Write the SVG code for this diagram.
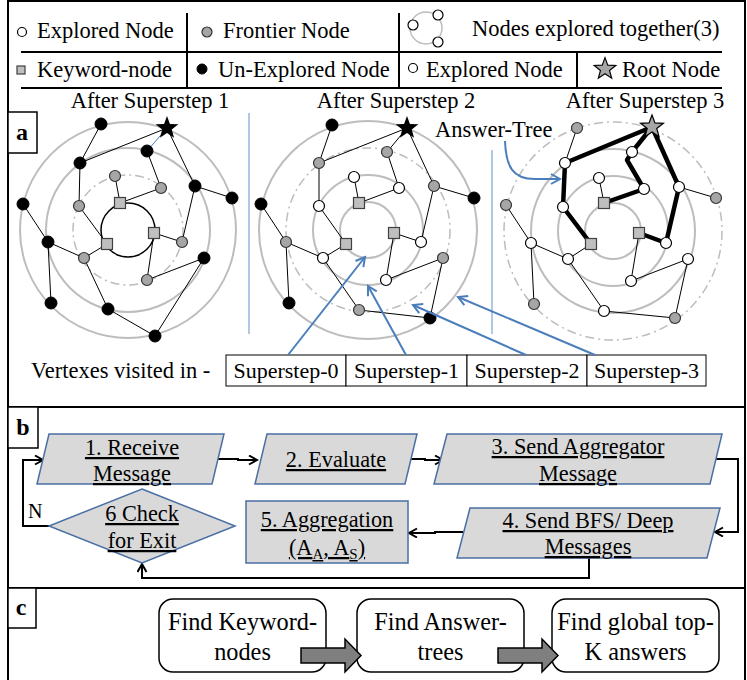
<svg xmlns="http://www.w3.org/2000/svg" xmlns:xlink="http://www.w3.org/1999/xlink" width="747" height="680" viewBox="0 0 747 680">
<defs>
<style>
text{font-family:"Liberation Serif","Times New Roman",serif;fill:#000}
.lg{font-size:22.5px}
.t{font-size:22.5px}
.fc{font-size:22.3px;text-anchor:middle;text-decoration:underline}
.pc{font-size:24.3px;text-anchor:middle}
.lbl{font-size:24px;font-weight:bold;text-anchor:middle}
.ex{fill:#fff;stroke:#000;stroke-width:1.2}
.fr{fill:#a6a6a6;stroke:#333;stroke-width:1.2}
.un{fill:#000;stroke:#000;stroke-width:1}
.kw{fill:#bfbfbf;stroke:#404040;stroke-width:1.2}
.ring{fill:none;stroke:#bdbdbd;stroke-width:2}
.dd{fill:none;stroke:#bdbdbd;stroke-width:1.5;stroke-dasharray:9 4 2 4}
.e{stroke:#000;stroke-width:1;fill:none}
.th{stroke:#000;stroke-width:4.5;fill:none;stroke-linejoin:round}
.bl{stroke:#4a7ebb;stroke-width:2;fill:none}
.sep{stroke:#7ea3d4;stroke-width:1.2}
.ln{stroke:#000;stroke-width:2;fill:none}
.fbox{fill:#d9d9d9;stroke:#4a6fa5;stroke-width:1.5}
.cbox{fill:#fff;stroke:#000;stroke-width:1.5}
.conn{stroke:#000;stroke-width:2;fill:none}
</style>
<polygon id="star" points="0,-12 2.94,-4.05 11.41,-3.71 4.76,1.55 7.05,9.71 0,5 -7.05,9.71 -4.76,1.55 -11.41,-3.71 -2.94,-4.05"/>
<marker id="ak" markerUnits="userSpaceOnUse" markerWidth="12" markerHeight="12" refX="9" refY="5" orient="auto">
<path d="M1,0.5 L9,5 L1,9.5" fill="none" stroke="#000" stroke-width="2"/>
</marker>
<marker id="ab" markerUnits="userSpaceOnUse" markerWidth="14" markerHeight="14" refX="10" refY="6" orient="auto">
<path d="M1,1 L10,6 L1,11" fill="none" stroke="#4a7ebb" stroke-width="2"/>
</marker>
</defs>
<rect width="747" height="680" fill="#fff"/>

<!-- frame -->
<g id="frame">
<rect x="8" y="1" width="737" height="700" fill="none" stroke="#000" stroke-width="2"/>
<line x1="8" y1="407" x2="745" y2="407" class="ln"/>
<line x1="8" y1="588" x2="745" y2="588" class="ln"/>
</g>

<!-- legend -->
<g id="legend">
<line x1="187" y1="13" x2="187" y2="88" class="ln"/>
<line x1="399" y1="13" x2="399" y2="88" class="ln"/>
<line x1="577" y1="52" x2="577" y2="88" class="ln"/>
<line x1="21" y1="52" x2="722" y2="52" class="ln"/>
<line x1="21" y1="88" x2="722" y2="88" class="ln"/>
<circle cx="22" cy="32" r="4.5" class="ex"/>
<text x="37" y="38" class="lg">Explored Node</text>
<circle cx="207" cy="32" r="5" class="fr"/>
<text x="223" y="38" class="lg">Frontier Node</text>
<circle cx="426" cy="28" r="16" fill="none" stroke="#bdbdbd" stroke-width="1.5"/>
<circle cx="438" cy="15" r="5" class="ex"/>
<circle cx="413" cy="25" r="5" class="ex"/>
<circle cx="438" cy="42" r="5" class="ex"/>
<text x="472" y="36" class="lg">Nodes explored together(3)</text>
<rect x="17" y="66" width="8" height="8" class="kw"/>
<text x="37" y="77" class="lg">Keyword-node</text>
<circle cx="202" cy="69" r="5" class="un"/>
<text x="218" y="77" class="lg">Un-Explored Node</text>
<circle cx="413" cy="68" r="4.5" class="ex"/>
<text x="426" y="77" class="lg">Explored Node</text>
<use xlink:href="#star" transform="translate(605,69) scale(0.95)" fill="#a6a6a6" stroke="#000" stroke-width="1.2"/>
<text x="622" y="77" class="lg">Root Node</text>
</g>

<!-- panel a -->
<g id="label-a">
<rect x="8" y="112" width="29" height="41" fill="#fff" stroke="#000" stroke-width="1.5"/>
<text x="22" y="140" class="lbl">a</text>
</g>
<text x="150" y="108" class="lg" text-anchor="middle">After Superstep 1</text>
<text x="396" y="108" class="lg" text-anchor="middle">After Superstep 2</text>
<text x="645" y="108" class="lg" text-anchor="middle">After Superstep 3</text>
<line x1="249" y1="113" x2="249" y2="334" class="sep"/>
<line x1="492" y1="150" x2="492" y2="334" class="sep"/>

<!-- graph 1 rings -->
<g id="g1-rings">
<circle cx="128" cy="230" r="108" class="ring"/>
<circle cx="128" cy="230" r="82" class="ring"/>
<circle cx="128" cy="230" r="55" class="dd"/>
<circle cx="128" cy="230" r="27" fill="none" stroke="#000" stroke-width="1.5"/>
</g>
<g id="g1-edges">
<path class="e" d="M101,124 L80,163 L167,128 M147,151 L161,188 M167,128 L195,186 M115,176 L120,203 L161,188 M80,163 L79,206 L107,244 M195,186 L232,198 M195,186 L182,242 M154,233 L182,242 M23,204 L48,242 L84,258 L107,244 M48,242 L51,303 M84,258 L108,309 L155,336 M204,258 L147,280 M204,258 L155,336 M154,233 L147,280"/>
<line x1="167" y1="128" x2="147" y2="151" stroke="#4a7ebb" stroke-width="1"/>
</g>
<g id="g1-nodes">
<g id="g1-n1"><circle cx="101" cy="124" r="6" class="un"/></g>
<g id="g1-n2"><circle cx="147" cy="151" r="6" class="un"/></g>
<g id="g1-n3"><circle cx="80" cy="163" r="6" class="un"/></g>
<g id="g1-n4"><circle cx="195" cy="186" r="6" class="un"/></g>
<g id="g1-n5"><circle cx="232" cy="198" r="6" class="un"/></g>
<g id="g1-n6"><circle cx="23" cy="204" r="6" class="un"/></g>
<g id="g1-n7"><circle cx="48" cy="242" r="6" class="un"/></g>
<g id="g1-n8"><circle cx="204" cy="258" r="6" class="un"/></g>
<g id="g1-n9"><circle cx="51" cy="303" r="6" class="un"/></g>
<g id="g1-n10"><circle cx="108" cy="309" r="6" class="un"/></g>
<g id="g1-n11"><circle cx="155" cy="336" r="6" class="un"/></g>
<g id="g1-n12"><circle cx="115" cy="176" r="5.5" class="fr"/></g>
<g id="g1-n13"><circle cx="161" cy="188" r="5.5" class="fr"/></g>
<g id="g1-n14"><circle cx="79" cy="206" r="5.5" class="fr"/></g>
<g id="g1-n15"><circle cx="182" cy="242" r="5.5" class="fr"/></g>
<g id="g1-n16"><circle cx="84" cy="258" r="5.5" class="fr"/></g>
<g id="g1-n17"><circle cx="147" cy="280" r="5.5" class="fr"/></g>
<g id="g1-k1"><rect x="114.5" y="197.5" width="11" height="11" class="kw"/></g>
<g id="g1-k2"><rect x="148.5" y="227.5" width="11" height="11" class="kw"/></g>
<g id="g1-k3"><rect x="101.5" y="238.5" width="11" height="11" class="kw"/></g>
<g id="g1-root"><use xlink:href="#star" x="167" y="128" fill="#000"/></g>
</g>

<!-- graph 2 -->
<g id="g2-rings">
<circle cx="368" cy="230" r="109" class="ring"/>
<circle cx="368" cy="230" r="82" class="dd"/>
<circle cx="368" cy="230" r="55" class="ring"/>
<circle cx="368" cy="230" r="28" class="ring"/>
</g>
<g id="g2-edges">
<path class="e" d="M332,125 L319,163 L407,128 L387,152 L399,188 M407,128 L434,186 L474,198 M434,186 L421,242 M354,177 L359,203 L399,188 M319,163 L319,206 L346,244 M261,204 L286,242 L323,258 L346,244 M286,242 L289,303 M323,258 L359,310 L430,318 M394,233 L421,242 M394,233 L386,280 L443,258 L430,318"/>
</g>
<g id="g2-nodes">
<g id="g2-n1"><circle cx="332" cy="125" r="6" class="un"/></g>
<g id="g2-n2"><circle cx="474" cy="198" r="6" class="un"/></g>
<g id="g2-n3"><circle cx="261" cy="204" r="6" class="un"/></g>
<g id="g2-n4"><circle cx="289" cy="303" r="6" class="un"/></g>
<g id="g2-n5"><circle cx="430" cy="318" r="6" class="un"/></g>
<g id="g2-n6"><circle cx="387" cy="152" r="5.5" class="fr"/></g>
<g id="g2-n7"><circle cx="319" cy="163" r="5.5" class="fr"/></g>
<g id="g2-n8"><circle cx="434" cy="186" r="5.5" class="fr"/></g>
<g id="g2-n9"><circle cx="286" cy="242" r="5.5" class="fr"/></g>
<g id="g2-n10"><circle cx="443" cy="258" r="5.5" class="fr"/></g>
<g id="g2-n11"><circle cx="359" cy="310" r="5.5" class="fr"/></g>
<g id="g2-n12"><circle cx="354" cy="177" r="5.5" class="ex"/></g>
<g id="g2-n13"><circle cx="399" cy="188" r="5.5" class="ex"/></g>
<g id="g2-n14"><circle cx="319" cy="206" r="5.5" class="ex"/></g>
<g id="g2-n15"><circle cx="421" cy="242" r="5.5" class="ex"/></g>
<g id="g2-n16"><circle cx="323" cy="258" r="5.5" class="ex"/></g>
<g id="g2-n17"><circle cx="386" cy="280" r="5.5" class="ex"/></g>
<g id="g2-k1"><rect x="353.5" y="197.5" width="11" height="11" class="kw"/></g>
<g id="g2-k2"><rect x="388.5" y="227.5" width="11" height="11" class="kw"/></g>
<g id="g2-k3"><rect x="340.5" y="238.5" width="11" height="11" class="kw"/></g>
<g id="g2-root"><use xlink:href="#star" x="407" y="128" fill="#000"/></g>
</g>

<!-- graph 3 -->
<g id="g3-rings">
<circle cx="613" cy="231" r="109" class="dd"/>
<circle cx="613" cy="231" r="82" class="ring"/>
<circle cx="613" cy="231" r="55" class="ring"/>
<circle cx="613" cy="231" r="28" class="ring"/>
</g>
<g id="g3-edges">
<path class="e" d="M577,128 L565,163 M599,178 L604,203 M679,187 L716,198 M506,205 L531,243 L568,259 L591,244 M531,243 L534,304 M568,259 L604,311 L675,318 M639,233 L631,281 L688,259 L675,318"/>
<path class="th" d="M652,127 L565,163 L563,207 L591,244 M652,127 L632,152 L627,160 L644,189 L604,203 M652,127 L679,187 L666,243 L639,233"/>
</g>
<g id="g3-nodes">
<g id="g3-n1"><circle cx="577" cy="128" r="5.5" class="fr"/></g>
<g id="g3-n2"><circle cx="716" cy="198" r="5.5" class="fr"/></g>
<g id="g3-n3"><circle cx="506" cy="205" r="5.5" class="fr"/></g>
<g id="g3-n4"><circle cx="534" cy="304" r="5.5" class="fr"/></g>
<g id="g3-n5"><circle cx="675" cy="318" r="5.5" class="fr"/></g>
<g id="g3-n6"><circle cx="632" cy="152" r="5.5" class="ex"/></g>
<g id="g3-n7"><circle cx="565" cy="163" r="5.5" class="ex"/></g>
<g id="g3-n8"><circle cx="599" cy="178" r="5.5" class="ex"/></g>
<g id="g3-n9"><circle cx="644" cy="189" r="5.5" class="ex"/></g>
<g id="g3-n10"><circle cx="679" cy="187" r="5.5" class="ex"/></g>
<g id="g3-n11"><circle cx="563" cy="207" r="5.5" class="ex"/></g>
<g id="g3-n12"><circle cx="531" cy="243" r="5.5" class="ex"/></g>
<g id="g3-n13"><circle cx="666" cy="243" r="5.5" class="ex"/></g>
<g id="g3-n14"><circle cx="568" cy="259" r="5.5" class="ex"/></g>
<g id="g3-n15"><circle cx="688" cy="259" r="5.5" class="ex"/></g>
<g id="g3-n16"><circle cx="631" cy="281" r="5.5" class="ex"/></g>
<g id="g3-n17"><circle cx="604" cy="311" r="5.5" class="ex"/></g>
<g id="g3-k1"><rect x="598.5" y="197.5" width="11" height="11" class="kw"/></g>
<g id="g3-k2"><rect x="633.5" y="227.5" width="11" height="11" class="kw"/></g>
<g id="g3-k3"><rect x="585.5" y="238.5" width="11" height="11" class="kw"/></g>
<g id="g3-root"><use xlink:href="#star" x="652" y="127" fill="#a6a6a6" stroke="#000" stroke-width="1.2"/></g>
</g>

<g id="answer-tree">
<text x="435" y="137" font-size="22.5px">Answer-Tree</text>
<path d="M505,141 C506,166 512,179 535,179 L560,179" class="bl" marker-end="url(#ab)"/>
</g>

<!-- superstep legend -->
<text x="31" y="378" class="t">Vertexes visited in -</text>
<g id="ss0"><rect x="226" y="355" width="120" height="31" fill="#fff" stroke="#000" stroke-width="1"/><text x="286" y="378" font-size="22px" text-anchor="middle">Superstep-0</text></g>
<g id="ss1"><rect x="346" y="355" width="121" height="31" fill="#fff" stroke="#000" stroke-width="1"/><text x="406.5" y="378" font-size="22px" text-anchor="middle">Superstep-1</text></g>
<g id="ss2"><rect x="467" y="355" width="120" height="31" fill="#fff" stroke="#000" stroke-width="1"/><text x="527" y="378" font-size="22px" text-anchor="middle">Superstep-2</text></g>
<g id="ss3"><rect x="587" y="355" width="119" height="31" fill="#fff" stroke="#000" stroke-width="1"/><text x="646.5" y="378" font-size="22px" text-anchor="middle">Superstep-3</text></g>
<g id="ss-arrows">
<line x1="288" y1="355" x2="365" y2="257" class="bl" marker-end="url(#ab)"/>
<line x1="406" y1="355" x2="368" y2="286" class="bl" marker-end="url(#ab)"/>
<line x1="526" y1="355" x2="413" y2="305" class="bl" marker-end="url(#ab)"/>
<line x1="595" y1="355" x2="458" y2="297" class="bl" marker-end="url(#ab)"/>
</g>

<!-- panel b -->
<g id="label-b">
<rect x="8" y="407" width="30" height="41" fill="#fff" stroke="#000" stroke-width="1.5"/>
<text x="23" y="435" class="lbl">b</text>
</g>
<g id="connectors-b">
<path d="M218,459 H238 V460 H257" class="conn" marker-end="url(#ak)"/>
<path d="M411,459 H425 V460 H443" class="conn" marker-end="url(#ak)"/>
<path d="M715,459 H738 V532 H715" class="conn" marker-end="url(#ak)"/>
<path d="M463,532 H435 V533 H409" class="conn" marker-end="url(#ak)"/>
<path d="M589,558 V578 H142 V564" class="conn" marker-end="url(#ak)"/>
<path d="M49,526 H23 V460 H43" class="conn" marker-end="url(#ak)"/>
<text x="28" y="518" font-size="20px">N</text>
</g>
<g id="b1"><polygon points="49,434 224,434 212,484 37,484" class="fbox"/><text x="132" y="455" class="fc">1. Receive</text><text x="132" y="481" class="fc">Message</text></g>
<g id="b2"><polygon points="267,434 417,434 405,484 255,484" class="fbox"/><text x="336" y="467" class="fc">2. Evaluate</text></g>
<g id="b3"><polygon points="447,434 722,434 710,484 434,484" class="fbox"/><text x="578" y="454" class="fc">3. Send Aggregator</text><text x="578" y="481" class="fc">Message</text></g>
<g id="b4"><polygon points="470,508 720,508 707,558 457,558" class="fbox"/><text x="588" y="528" class="fc">4. Send BFS/ Deep</text><text x="588" y="554" class="fc">Messages</text></g>
<g id="b5"><rect x="246" y="501" width="162" height="62" class="fbox"/><text x="327" y="527" class="fc">5. Aggregation</text><text x="327" y="555" class="fc">(A<tspan font-size="15px" baseline-shift="-4">A</tspan>, A<tspan font-size="15px" baseline-shift="-4">S</tspan>)</text></g>
<g id="b6"><polygon points="142,489 235,526 142,563 49,526" class="fbox"/><text x="142" y="521" class="fc">6 Check</text><text x="142" y="548" class="fc">for Exit</text></g>

<!-- panel c -->
<g id="label-c">
<rect x="8" y="588" width="28" height="40" fill="#fff" stroke="#000" stroke-width="1.5"/>
<text x="21" y="615" class="lbl">c</text>
</g>
<g id="c1"><rect x="159" y="599" width="167" height="73" rx="14" class="cbox"/><text x="242.5" y="630" class="pc">Find Keyword-</text><text x="242.5" y="660" class="pc">nodes</text></g>
<g id="c2"><rect x="357" y="599" width="167" height="73" rx="14" class="cbox"/><text x="440.5" y="630" class="pc">Find Answer-</text><text x="440.5" y="660" class="pc">trees</text></g>
<g id="c3"><rect x="552" y="599" width="167" height="73" rx="14" class="cbox"/><text x="635.5" y="630" class="pc">Find global top-</text><text x="635.5" y="660" class="pc">K answers</text></g>
<g id="connectors-c">
<polygon points="301,648 345,648 345,639 361,655.5 345,672 345,663 301,663" fill="#7f7f7f" stroke="#000" stroke-width="1.5"/>
<polygon points="498,648 542,648 542,639 558,655.5 542,672 542,663 498,663" fill="#7f7f7f" stroke="#000" stroke-width="1.5"/>
</g>
</svg>
